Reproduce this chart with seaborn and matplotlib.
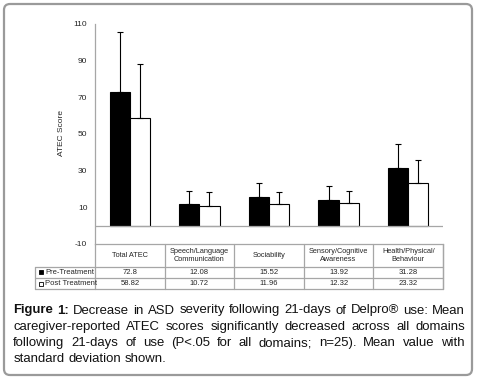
import matplotlib
matplotlib.use("Agg")
import matplotlib.pyplot as plt
import matplotlib.transforms as mtransforms
from matplotlib.patches import FancyBboxPatch
import pandas as pd
import seaborn as sns

categories = ["Total ATEC", "Speech/Language\nCommunication", "Sociability",
              "Sensory/Cognitive\nAwareness", "Health/Physical/\nBehaviour"]
groups = ["Pre-Treatment", "Post Treatment"]
pre_mean = [72.8, 12.08, 15.52, 13.92, 31.28]
post_mean = [58.82, 10.72, 11.96, 12.32, 23.32]
pre_sd = [32.8, 7.0, 7.7, 7.7, 13.3]
post_sd = [29.5, 7.6, 6.3, 6.7, 12.6]
yticks = [-10, 10, 30, 50, 70, 90, 110]

caption_lines = [
    ["Figure 1:", "Decrease in ASD severity following 21-days of Delpro® use: Mean"],
    ["", "caregiver-reported ATEC scores significantly decreased across all domains"],
    ["", "following 21-days of use (P<.05 for all domains; n=25). Mean value with"],
    ["", "standard deviation shown."],
]

df = pd.DataFrame({
    "domain": categories * 2,
    "group": [groups[0]] * 5 + [groups[1]] * 5,
    "score": pre_mean + post_mean,
})

sns.set_style("white")
plt.rcParams["font.family"] = ["Liberation Sans", "DejaVu Sans"]
plt.rcParams["axes.unicode_minus"] = False

W, H = 479, 378
fig = plt.figure(figsize=(W / 100, H / 100), dpi=100)
ax = fig.add_axes([95 / W, 1 - 244 / H, 348 / W, 220 / H])

sns.barplot(data=df, x="domain", y="score", hue="group", order=categories,
            hue_order=groups, palette=["black", "white"], width=0.58,
            edgecolor="black", linewidth=0.8, errorbar=None, legend=False, ax=ax)

# upper-only standard deviation bars
for cont, sds, means in zip(ax.containers, [pre_sd, post_sd], [pre_mean, post_mean]):
    xs = [p.get_x() + p.get_width() / 2 for p in cont.patches]
    ax.errorbar(xs, means, yerr=[[0] * len(sds), sds], fmt="none",
                ecolor="black", elinewidth=0.8, capsize=2, capthick=0.8)

grey = "#a6a6a6"
ax.set_xlim(-0.5, len(categories) - 0.5)
ax.set_ylim(-10, 110)
ax.set_yticks(yticks)
ax.tick_params(axis="y", length=4, width=0.8, color=grey, pad=1.5, labelsize=6)
ax.set_xticks([])
ax.set_xlabel("")
ax.set_ylabel("ATEC Score", fontsize=6)
ax.yaxis.set_label_coords(-0.086, 0.505)
ax.axhline(0, color=grey, lw=0.9)
for s in ["top", "right"]:
    ax.spines[s].set_visible(False)
for s in ["left", "bottom"]:
    ax.spines[s].set_color(grey)
    ax.spines[s].set_linewidth(0.9)

# data table below the axes
tr = mtransforms.blended_transform_factory(ax.transData, ax.transAxes)
h_hdr = 22.7 / 220
h_row = 11.2 / 220
y0 = 0
y1 = -h_hdr
y2 = y1 - h_row
y3 = y2 - h_row
xl = -0.5 - 60 / 69.6
xr = len(categories) - 0.5
kw = dict(color=grey, lw=0.9, transform=tr, clip_on=False)
for yy in [y1, y2, y3]:
    ax.plot([xl, xr], [yy, yy], **kw)
for i in range(len(categories) + 1):
    ax.plot([i - 0.5, i - 0.5], [y0, y3], **kw)
ax.plot([xl, xl], [y1, y3], **kw)
ax.plot([xr, xr], [y0, y3], **kw)

for i, c in enumerate(categories):
    ax.text(i, (y0 + y1) / 2, c, ha="center", va="center", fontsize=5.3,
            linespacing=1.1, transform=tr)
for row, (g, vals, fc) in enumerate(zip(groups, [pre_mean, post_mean], ["black", "white"])):
    yc = (y1 + y2) / 2 - row * h_row
    ax.plot([xl + 0.08], [yc], marker="s", ms=3.5, mfc=fc, mec="black", mew=0.6,
            transform=tr, clip_on=False)
    ax.text(xl + 0.15, yc, g, ha="left", va="center", fontsize=5.5, transform=tr)
    for i, v in enumerate(vals):
        ax.text(i, yc, f"{v:g}", ha="center", va="center", fontsize=5.5, transform=tr)

# rounded frame around everything
ident = mtransforms.IdentityTransform()
frame = FancyBboxPatch((4, 3), 468, 371, boxstyle="round,pad=0,rounding_size=6",
                       fc="none", ec="#9a9a9a", lw=1.6, transform=ident)
fig.add_artist(frame)

# justified caption
fig.canvas.draw()
renderer = fig.canvas.get_renderer()
left, right = 13.3, 465.0
fsize = 9.45
line_y = [309, 325.3, 341.7, 358]


def word_width(text, weight):
    t = fig.text(0, 0, text, fontsize=fsize, fontweight=weight)
    w = t.get_window_extent(renderer).width
    t.remove()
    return w


for li, (bold_part, rest) in enumerate(caption_lines):
    words = []
    if bold_part:
        words += [(w, "bold") for w in bold_part.split()]
    words += [(w, "normal") for w in rest.split()]
    widths = [word_width(w, wt) for w, wt in words]
    last = li == len(caption_lines) - 1
    if last:
        gap = word_width("a b", "normal") - word_width("ab", "normal")
    else:
        gap = (right - left - sum(widths)) / (len(words) - 1)
    x = left
    for (w, wt), ww in zip(words, widths):
        fig.text(x / W, 1 - line_y[li] / H, w, fontsize=fsize, fontweight=wt,
                 ha="left", va="center_baseline", color="#111111")
        x += ww + gap

fig.savefig("out.png", dpi=100)
